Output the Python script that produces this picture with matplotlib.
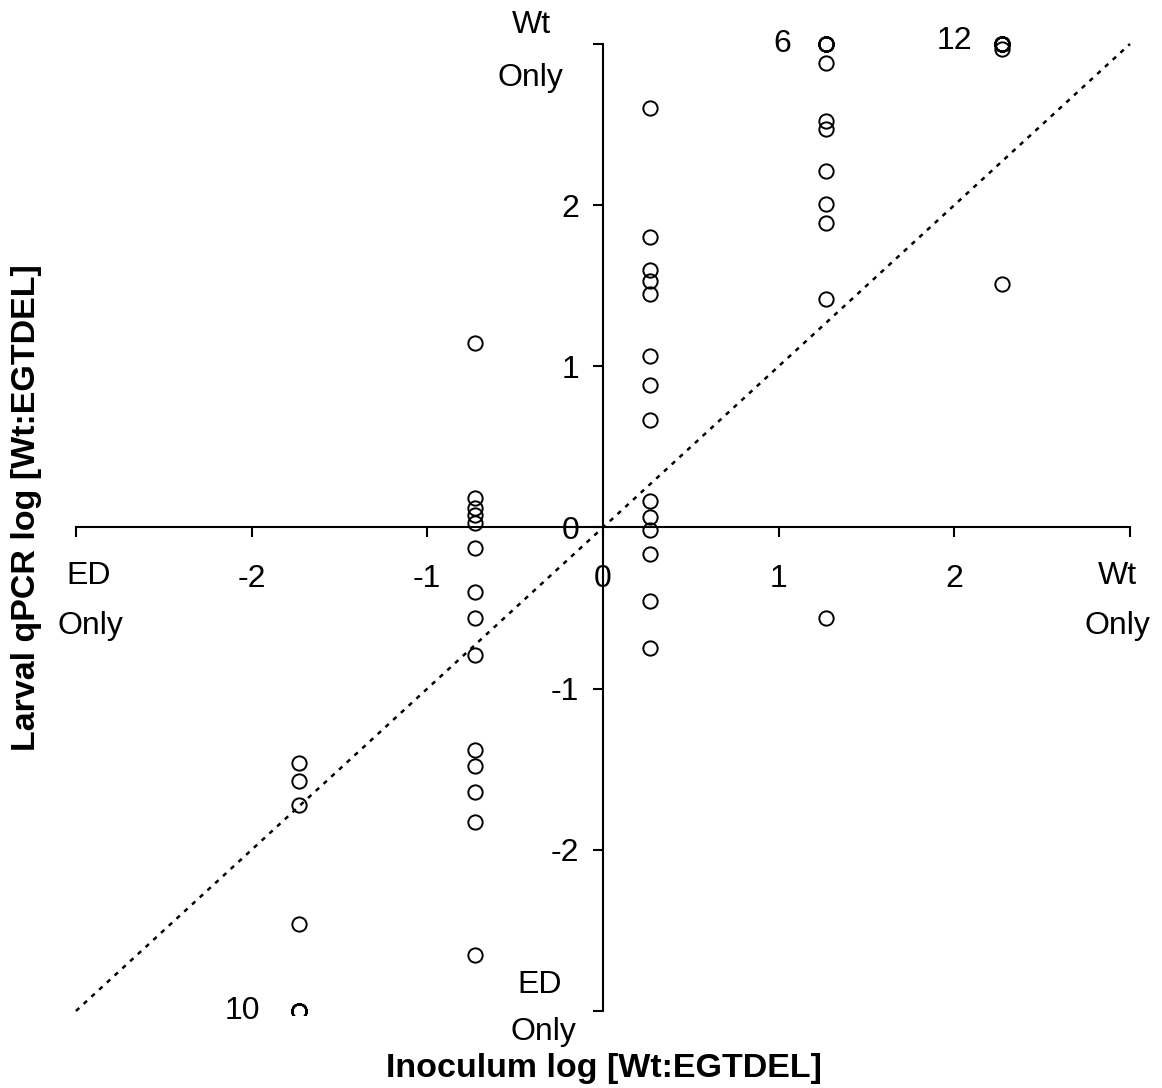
import matplotlib
matplotlib.use("Agg")
import matplotlib.pyplot as plt

plt.rcParams['font.family'] = ['Liberation Sans', 'DejaVu Sans']

# Inoculum log ratios (x) and larval qPCR log ratios (y) per group
inoculum = [-1.73, -0.73, 0.27, 1.27, 2.27]
larval_g1 = [-1.46, -1.575, -1.72, -2.46] + [-3.0] * 10
larval_g2 = [1.146, 0.18, 0.12, 0.08, 0.03, -0.13, -0.40, -0.563, -0.79,
             -1.383, -1.48, -1.64, -1.83, -2.65]
larval_g3 = [2.60, 1.80, 1.60, 1.53, 1.45, 1.063, 0.885, 0.664, 0.163,
             0.066, -0.017, -0.165, -0.454, -0.749]
larval_g4 = [3.0] * 6 + [2.88, 2.52, 2.47, 2.21, 2.01, 1.89, 1.42, -0.559]
larval_g5 = [3.0] * 11 + [2.97, 1.51]
groups = [larval_g1, larval_g2, larval_g3, larval_g4, larval_g5]

count_labels = ["10", "6", "12"]
count_pos = [(-2.05, -3.0), (1.02, 3.0), (2.0, 3.02)]

x_ticks = [-3, -2, -1, 0, 1, 2, 3]
x_ticklabels = ['', '-2', '-1', '0', '1', '2', '']
y_ticks = [-3, -2, -1, 0, 1, 2, 3]
y_ticklabels = ['', '-2', '-1', '0', '1', '2', '']

FS = 23

fig = plt.figure(figsize=(11.62, 10.88), dpi=100)
ax = fig.add_axes([0.0578, 0.0671, 0.9222, 0.9073])
ax.set_xlim(-3.05, 3.05)
ax.set_ylim(-3.025, 3.1)

# identity line
ax.plot([-3, 3], [-3, 3], color='black', lw=1.8, ls=(0, (1.8, 2.4)), zorder=1)

for xv, ys in zip(inoculum, groups):
    ax.plot([xv] * len(ys), ys, linestyle='none', marker='o', ms=10.3,
            mfc='none', mec='black', mew=1.4, zorder=3)

for lab, (tx, ty) in zip(count_labels, count_pos):
    ax.text(tx, ty, lab, fontsize=FS, ha='center', va='center')

# spines through origin
for s in ['top', 'right']:
    ax.spines[s].set_visible(False)
ax.spines['left'].set_position(('data', 0))
ax.spines['bottom'].set_position(('data', 0))
ax.spines['left'].set_bounds(-3, 3)
ax.spines['bottom'].set_bounds(-3, 3)
ax.spines['left'].set_linewidth(1.5)
ax.spines['bottom'].set_linewidth(1.5)

ax.set_xticks(x_ticks)
ax.set_xticklabels(x_ticklabels)
ax.set_yticks(y_ticks)
ax.set_yticklabels(y_ticklabels)
ax.tick_params(axis='x', direction='out', length=7, width=1.5, labelsize=FS, pad=19)
ax.tick_params(axis='y', direction='out', length=7, width=1.5, labelsize=FS, pad=10)

# end labels
ax.text(-2.93, -0.30, 'ED', fontsize=FS, ha='center', va='center')
ax.text(-2.92, -0.61, 'Only', fontsize=FS, ha='center', va='center')
ax.text(2.93, -0.30, 'Wt', fontsize=FS, ha='center', va='center')
ax.text(2.93, -0.61, 'Only', fontsize=FS, ha='center', va='center')
ax.text(-0.41, 3.12, 'Wt', fontsize=FS, ha='center', va='center')
ax.text(-0.41, 2.79, 'Only', fontsize=FS, ha='center', va='center')
ax.text(-0.36, -2.84, 'ED', fontsize=FS, ha='center', va='center')
ax.text(-0.34, -3.13, 'Only', fontsize=FS, ha='center', va='center')

fig.text(604 / 1162, 1 - 1068 / 1088, 'Inoculum log [Wt:EGTDEL]', fontsize=24.5,
         fontweight='bold', ha='center', va='center')
fig.text(27 / 1162, 1 - 508 / 1088, 'Larval qPCR log [Wt:EGTDEL]', fontsize=24.5,
         fontweight='bold', ha='center', va='center', rotation=90)

fig.savefig('out.png', dpi=100)
